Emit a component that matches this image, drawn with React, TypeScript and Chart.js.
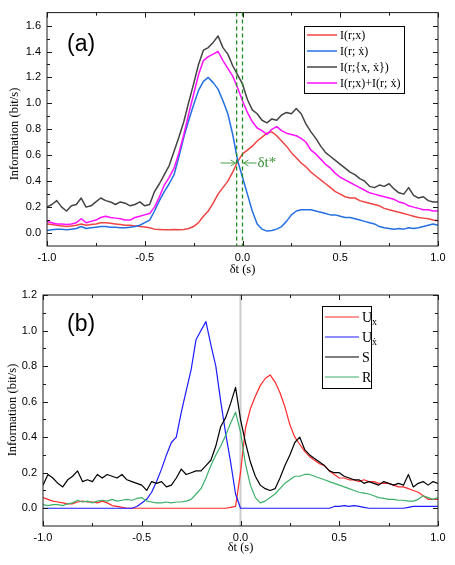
import React, { useEffect, useRef } from 'react'
import { Chart, registerables } from 'chart.js'

Chart.register(...registerables)

// ============================================================================
// DATA
// ============================================================================

// time lag δt (s)
const DT = [
  -1.0, -0.975, -0.95, -0.925, -0.9, -0.875, -0.85, -0.825, -0.8, -0.775,
  -0.75, -0.725, -0.7, -0.675, -0.65, -0.625, -0.6, -0.575, -0.55, -0.525,
  -0.5, -0.475, -0.45, -0.425, -0.4, -0.375, -0.35, -0.325, -0.3, -0.275,
  -0.25, -0.225, -0.2, -0.175, -0.15, -0.125, -0.1, -0.075, -0.05, -0.025,
  0.0, 0.025, 0.05, 0.075, 0.1, 0.125, 0.15, 0.175, 0.2, 0.225,
  0.25, 0.275, 0.3, 0.325, 0.35, 0.375, 0.4, 0.425, 0.45, 0.475,
  0.5, 0.525, 0.55, 0.575, 0.6, 0.625, 0.65, 0.675, 0.7, 0.725,
  0.75, 0.775, 0.8, 0.825, 0.85, 0.875, 0.9, 0.925, 0.95, 0.975,
  1.0,
]

// panel (a): I(r;x)
const A_IX = [
  0.07, 0.065, 0.06, 0.055, 0.05, 0.055, 0.06, 0.07, 0.06, 0.065,
  0.07, 0.08, 0.08, 0.075, 0.07, 0.065, 0.06, 0.06, 0.055, 0.05,
  0.047, 0.04, 0.03, 0.028, 0.025, 0.025, 0.027, 0.025, 0.028, 0.035,
  0.05, 0.08, 0.13, 0.17, 0.23, 0.3, 0.35, 0.4, 0.47, 0.55,
  0.61, 0.64, 0.67, 0.71, 0.74, 0.77, 0.78, 0.75, 0.71, 0.67,
  0.62, 0.58, 0.54, 0.51, 0.47, 0.44, 0.41, 0.38, 0.35, 0.32,
  0.3, 0.28, 0.27, 0.27, 0.25, 0.24, 0.23, 0.22, 0.21, 0.19,
  0.18, 0.17, 0.16, 0.15, 0.14, 0.13, 0.12, 0.115, 0.11, 0.1,
  0.095,
]

// panel (a): I(r;ẋ)
const A_IXD = [
  0.02, 0.025, 0.03, 0.03, 0.025, 0.03, 0.035, 0.05, 0.035, 0.04,
  0.045, 0.05, 0.05, 0.045, 0.045, 0.04, 0.04, 0.045, 0.05, 0.06,
  0.08, 0.1, 0.17, 0.25, 0.32, 0.38, 0.45, 0.59, 0.74, 0.87,
  0.99, 1.1, 1.17, 1.2, 1.16, 1.11, 1.02, 0.92, 0.76, 0.56,
  0.43, 0.3, 0.17, 0.07, 0.03, 0.015, 0.02, 0.03, 0.05, 0.09,
  0.14, 0.17, 0.18, 0.18, 0.18, 0.17, 0.16, 0.15, 0.14, 0.14,
  0.13, 0.12, 0.12, 0.11, 0.1, 0.09, 0.08, 0.07, 0.05, 0.04,
  0.035, 0.03, 0.035, 0.03, 0.04, 0.035, 0.04, 0.05, 0.06, 0.07,
  0.06,
]

// panel (a): I(r;{x,ẋ})
const A_IXXD = [
  0.2, 0.22, 0.25, 0.2, 0.17, 0.21, 0.22, 0.27, 0.2, 0.21,
  0.24, 0.27, 0.25, 0.24, 0.22, 0.24, 0.23, 0.21, 0.22, 0.24,
  0.21, 0.22, 0.32, 0.38, 0.45, 0.52, 0.63, 0.74, 0.86, 1.01,
  1.15, 1.3, 1.41, 1.43, 1.47, 1.52, 1.43, 1.38, 1.29, 1.22,
  1.15, 1.03, 0.95, 0.92, 0.87, 0.85, 0.88, 0.87, 0.91, 0.93,
  0.92, 0.96, 0.92, 0.84, 0.78, 0.73, 0.67, 0.62, 0.59, 0.56,
  0.53, 0.5, 0.47, 0.45, 0.42, 0.4, 0.36, 0.35, 0.37, 0.36,
  0.38, 0.34, 0.31, 0.3, 0.35, 0.29, 0.27, 0.28, 0.25, 0.24,
  0.24,
]

// panel (a): I(r;x)+I(r;ẋ)
const A_SUM = [
  0.09, 0.08, 0.07, 0.07, 0.065, 0.07, 0.08, 0.11, 0.08, 0.09,
  0.1, 0.12, 0.13, 0.12, 0.115, 0.11, 0.1, 0.1, 0.12, 0.13,
  0.14, 0.15, 0.2, 0.28, 0.37, 0.43, 0.5, 0.62, 0.76, 0.92,
  1.07, 1.22, 1.33, 1.36, 1.38, 1.4, 1.33, 1.27, 1.21, 1.12,
  1.02, 0.93, 0.86, 0.81, 0.79, 0.76, 0.8, 0.82, 0.79, 0.77,
  0.76, 0.75, 0.73, 0.7, 0.64, 0.61, 0.57, 0.53, 0.5, 0.46,
  0.43, 0.41, 0.39, 0.37, 0.35, 0.33, 0.31, 0.3, 0.29, 0.28,
  0.27, 0.26, 0.24, 0.23, 0.21, 0.2, 0.19, 0.18, 0.18, 0.17,
  0.17,
]

// panel (b): unique information of x
const B_UX = [
  0.06, 0.05, 0.04, 0.035, 0.03, 0.025, 0.025, 0.035, 0.04, 0.035,
  0.035, 0.03, 0.04, 0.03, 0.015, 0.01, 0.005, 0, 0, 0,
  0, 0, 0, 0, 0, 0, 0, 0, 0, 0,
  0, 0, 0, 0, 0, 0, 0, 0, 0.005, 0.01,
  0.2, 0.45, 0.56, 0.63, 0.69, 0.73, 0.75, 0.71, 0.65, 0.57,
  0.47, 0.4, 0.36, 0.32, 0.29, 0.27, 0.25, 0.24, 0.21, 0.19,
  0.17, 0.17, 0.16, 0.16, 0.15, 0.16, 0.15, 0.15, 0.14, 0.14,
  0.14, 0.13, 0.12, 0.12, 0.11, 0.1, 0.09, 0.07, 0.05, 0.05,
  0.05,
]

// panel (b): unique information of ẋ
const B_UXD = [
  0, 0, 0, 0, 0, 0, 0, 0, 0, 0,
  0, 0, 0, 0, 0, 0, 0, 0, 0, 0.01,
  0.03, 0.05, 0.09, 0.15, 0.22, 0.3, 0.37, 0.4, 0.54, 0.66,
  0.78, 0.95, 1.0, 1.05, 0.92, 0.8, 0.6, 0.42, 0.26, 0.08,
  0, 0, 0, 0, 0, 0, 0, 0, 0, 0,
  0, 0, 0, 0, 0, 0, 0, 0, 0, 0.01,
  0.01, 0.015, 0.01, 0.015, 0.01, 0.005, 0, 0, 0, 0,
  0, 0, 0, 0, 0.005, 0.01, 0.01, 0.01, 0.01, 0.01,
  0.01,
]

// panel (b): synergy
const B_S = [
  0.13, 0.19, 0.17, 0.14, 0.12, 0.16, 0.18, 0.21, 0.15, 0.16,
  0.15, 0.19, 0.17, 0.19, 0.18, 0.17, 0.19, 0.16, 0.15, 0.14,
  0.13, 0.1, 0.15, 0.14, 0.15, 0.12, 0.13, 0.17, 0.22, 0.19,
  0.2, 0.21, 0.21, 0.24, 0.27, 0.35, 0.46, 0.51, 0.59, 0.68,
  0.5, 0.37, 0.26, 0.18, 0.13, 0.11, 0.1, 0.11, 0.17, 0.24,
  0.3, 0.37, 0.4, 0.33, 0.3, 0.28, 0.26, 0.24, 0.21, 0.2,
  0.2, 0.18, 0.17, 0.16, 0.16, 0.14, 0.15, 0.14, 0.13, 0.15,
  0.14, 0.13, 0.14, 0.13, 0.19, 0.12, 0.14, 0.15, 0.13, 0.15,
  0.14,
]

// panel (b): redundancy
const B_R = [
  0.02, 0.015, 0.02, 0.02, 0.015, 0.025, 0.03, 0.045, 0.035, 0.04,
  0.03, 0.04, 0.045, 0.04, 0.05, 0.04, 0.045, 0.05, 0.045, 0.055,
  0.06, 0.04, 0.035, 0.03, 0.03, 0.035, 0.03, 0.035, 0.035, 0.04,
  0.05, 0.08, 0.11, 0.17, 0.24, 0.3, 0.35, 0.41, 0.48, 0.54,
  0.43, 0.25, 0.13, 0.06, 0.03, 0.04, 0.06, 0.08, 0.11, 0.14,
  0.16, 0.18, 0.18, 0.19, 0.19, 0.18, 0.17, 0.16, 0.15, 0.14,
  0.13, 0.12, 0.11, 0.1, 0.09, 0.085, 0.08, 0.07, 0.06, 0.055,
  0.05, 0.05, 0.045, 0.045, 0.04, 0.04, 0.05, 0.07, 0.06, 0.05,
  0.06,
]

// axis ticks
const X_MAJOR = [-1, -0.5, 0, 0.5, 1]
const X_MINOR = [-0.75, -0.25, 0.25, 0.75]
const A_Y_MAJOR = [0, 0.2, 0.4, 0.6, 0.8, 1.0, 1.2, 1.4, 1.6]
const A_Y_MINOR = [0.1, 0.3, 0.5, 0.7, 0.9, 1.1, 1.3, 1.5]
const B_Y_MAJOR = [0, 0.2, 0.4, 0.6, 0.8, 1.0, 1.2]
const B_Y_MINOR = [0.1, 0.3, 0.5, 0.7, 0.9, 1.1]

// annotation values
const A_DASH_X = [-0.03, 0]
const A_CROSS_Y = 0.54
const B_ZERO_X = [0]

// ============================================================================
// DRAWING HELPERS
// ============================================================================

const SERIF = '"Liberation Serif", "Times New Roman", "DejaVu Serif", serif'
const SANS = '"Liberation Sans", Arial, Helvetica, sans-serif'

type Seg = { t: string; sub?: boolean }
type LegendItem = { color: string; width: number; label: Seg[] }
type LegendBox = {
  x: number
  y: number
  w: number
  h: number
  firstRow: number
  rowGap: number
  lineFrom: number
  lineTo: number
  textAt: number
  size: number
}

// text centred on the cap height at y, with optional subscripts
const drawRich = (ctx: CanvasRenderingContext2D, segs: Seg[], x: number, y: number, size: number) => {
  let cx = x
  const base = y + size * 0.33
  ctx.textBaseline = 'alphabetic'
  ctx.textAlign = 'left'
  for (const s of segs) {
    const sz = s.sub ? Math.round(size * 0.7) : size
    ctx.font = `${sz}px ${SERIF}`
    ctx.fillText(s.t, cx, s.sub ? base + size * 0.25 : base)
    cx += ctx.measureText(s.t).width
  }
}

const arrow = (ctx: CanvasRenderingContext2D, x0: number, x1: number, y: number) => {
  const d = x1 > x0 ? -1 : 1
  ctx.beginPath()
  ctx.moveTo(x0, y)
  ctx.lineTo(x1, y)
  ctx.moveTo(x1 + d * 5, y - 3)
  ctx.lineTo(x1, y)
  ctx.lineTo(x1 + d * 5, y + 3)
  ctx.stroke()
}

// frame with inward ticks on all four sides, axis titles, panel tag, legend
const framePlugin = {
  id: 'frameTicks',
  afterDatasetsDraw(chart: any, _args: any, opts: any) {
    const { ctx, chartArea: a, scales } = chart
    const sx = scales.x
    const sy = scales.y
    ctx.save()
    ctx.strokeStyle = '#1a1a1a'
    ctx.lineWidth = 1
    ctx.strokeRect(a.left, a.top, a.right - a.left, a.bottom - a.top)

    const xt = (vals: number[], len: number) => {
      for (const v of vals) {
        const px = Math.round(sx.getPixelForValue(v)) + 0.5
        ctx.beginPath()
        ctx.moveTo(px, a.bottom)
        ctx.lineTo(px, a.bottom - len)
        ctx.moveTo(px, a.top)
        ctx.lineTo(px, a.top + len)
        ctx.stroke()
      }
    }
    const yt = (vals: number[], len: number) => {
      for (const v of vals) {
        const py = Math.round(sy.getPixelForValue(v)) + 0.5
        ctx.beginPath()
        ctx.moveTo(a.left, py)
        ctx.lineTo(a.left + len, py)
        ctx.moveTo(a.right, py)
        ctx.lineTo(a.right - len, py)
        ctx.stroke()
      }
    }
    xt(X_MAJOR, 5)
    xt(X_MINOR, 3)
    yt(opts.yMajor, 5)
    yt(opts.yMinor, 3)

    // axis titles
    ctx.fillStyle = '#000'
    ctx.font = `12.5px ${SERIF}`
    ctx.textAlign = 'center'
    ctx.textBaseline = 'middle'
    ctx.fillText('δt (s)', (a.left + a.right) / 2, opts.xTitleY)
    ctx.save()
    ctx.translate(opts.yTitleX, opts.yTitleY)
    ctx.rotate(-Math.PI / 2)
    ctx.fillText('Information (bit/s)', 0, 0)
    ctx.restore()

    // panel tag
    ctx.font = `23px ${SANS}`
    ctx.textAlign = 'left'
    ctx.fillText(opts.tag, opts.tagX, opts.tagY)

    // legend
    const lb: LegendBox = opts.box
    ctx.fillStyle = '#fff'
    ctx.fillRect(lb.x, lb.y, lb.w, lb.h)
    ctx.strokeStyle = '#000'
    ctx.lineWidth = 1
    ctx.strokeRect(lb.x + 0.5, lb.y + 0.5, lb.w, lb.h)
    opts.items.forEach((it: LegendItem, i: number) => {
      const yy = lb.y + lb.firstRow + i * lb.rowGap
      ctx.strokeStyle = it.color
      ctx.lineWidth = it.width
      ctx.beginPath()
      ctx.moveTo(lb.x + lb.lineFrom, yy)
      ctx.lineTo(lb.x + lb.lineTo, yy)
      ctx.stroke()
      ctx.fillStyle = '#000'
      drawRich(ctx, it.label, lb.x + lb.textAt, yy, lb.size)
    })
    ctx.restore()
  },
}

// panel (a): dashed lag markers and δt* arrows
const lagPlugin = {
  id: 'lagMarks',
  afterDatasetsDraw(chart: any) {
    const { ctx, chartArea: a, scales } = chart
    ctx.save()
    ctx.strokeStyle = '#1f8a1f'
    ctx.lineWidth = 1.3
    ctx.setLineDash([4, 3])
    for (const v of A_DASH_X) {
      const px = scales.x.getPixelForValue(v)
      ctx.beginPath()
      ctx.moveTo(px, a.top)
      ctx.lineTo(px, a.bottom)
      ctx.stroke()
    }
    ctx.setLineDash([])
    const py = scales.y.getPixelForValue(A_CROSS_Y)
    const p0 = scales.x.getPixelForValue(A_DASH_X[0])
    const p1 = scales.x.getPixelForValue(A_DASH_X[1])
    ctx.strokeStyle = '#4b9e4b'
    ctx.lineWidth = 1
    arrow(ctx, p0 - 16, p0 - 1, py)
    arrow(ctx, p1 + 14, p1 + 1, py)
    ctx.fillStyle = '#3a8e3a'
    ctx.font = `15px ${SERIF}`
    ctx.textAlign = 'left'
    ctx.textBaseline = 'middle'
    ctx.fillText('δt*', p1 + 15, py)
    ctx.restore()
  },
}

// panel (b): grey zero-lag line under the curves
const zeroPlugin = {
  id: 'zeroLine',
  beforeDatasetsDraw(chart: any) {
    const { ctx, chartArea: a, scales } = chart
    ctx.save()
    ctx.strokeStyle = '#cccccc'
    ctx.lineWidth = 2
    for (const v of B_ZERO_X) {
      const px = scales.x.getPixelForValue(v)
      ctx.beginPath()
      ctx.moveTo(px, a.top)
      ctx.lineTo(px, a.bottom)
      ctx.stroke()
    }
    ctx.restore()
  },
}

// ============================================================================
// PANEL COMPONENT
// ============================================================================

interface SeriesSpec {
  values: number[]
  color: string
  width: number
}

interface PanelProps {
  height: number
  yMin: number
  yMax: number
  yMajor: number[]
  yMinor: number[]
  yWidth: number
  xHeight: number
  padTop: number
  series: SeriesSpec[]
  legend: LegendItem[]
  box: LegendBox
  tag: string
  yTitleX: number
  yTitleY: number
  xTitleY: number
  extra: any[]
}

const Panel: React.FC<PanelProps> = (p) => {
  const canvasRef = useRef<HTMLCanvasElement>(null)

  useEffect(() => {
    if (!canvasRef.current) return
    const chart = new Chart(canvasRef.current, {
      type: 'line',
      data: {
        datasets: p.series.map((s, i) => ({
          data: DT.map((x, k) => ({ x, y: s.values[k] })),
          borderColor: s.color,
          borderWidth: s.width,
          pointRadius: 0,
          tension: 0,
          fill: false,
          borderJoinStyle: 'round' as const,
          order: p.series.length - i,
        })),
      },
      options: {
        responsive: false,
        maintainAspectRatio: false,
        animation: false,
        events: [],
        layout: { padding: { top: p.padTop, right: 17, left: 0, bottom: 0 } },
        plugins: {
          legend: { display: false },
          tooltip: { enabled: false },
          frameTicks: {
            yMajor: p.yMajor,
            yMinor: p.yMinor,
            items: p.legend,
            box: p.box,
            tag: p.tag,
            tagX: 67,
            tagY: 45,
            yTitleX: p.yTitleX,
            yTitleY: p.yTitleY,
            xTitleY: p.xTitleY,
          },
        } as any,
        scales: {
          x: {
            type: 'linear',
            min: -1,
            max: 1,
            afterBuildTicks: (s: any) => {
              s.ticks = X_MAJOR.map((v) => ({ value: v }))
            },
            afterFit: (s: any) => {
              s.height = p.xHeight
            },
            grid: { display: false, drawTicks: false },
            border: { display: false },
            ticks: {
              color: '#000',
              font: { family: SANS, size: 11 },
              padding: 5,
              maxRotation: 0,
              autoSkip: false,
              callback: (v: any) => Number(v).toFixed(1),
            },
          },
          y: {
            type: 'linear',
            min: p.yMin,
            max: p.yMax,
            afterBuildTicks: (s: any) => {
              s.ticks = p.yMajor.map((v) => ({ value: v }))
            },
            afterFit: (s: any) => {
              s.width = p.yWidth
            },
            grid: { display: false, drawTicks: false },
            border: { display: false },
            ticks: {
              color: '#000',
              font: { family: SANS, size: 11 },
              padding: 6,
              autoSkip: false,
              callback: (v: any) => Number(v).toFixed(1),
            },
          },
        },
      },
      plugins: [framePlugin, ...p.extra],
    })
    return () => {
      chart.destroy()
    }
  }, [])

  return <canvas ref={canvasRef} width={455} height={p.height} style={{ display: 'block' }} />
}

// ============================================================================
// APP
// ============================================================================

export default function App() {
  return (
    <div style={{ position: 'absolute', left: 0, top: 0, width: 455, height: 565, background: '#fff' }}>
      <Panel
        height={280}
        yMin={-0.1}
        yMax={1.7}
        yMajor={A_Y_MAJOR}
        yMinor={A_Y_MINOR}
        yWidth={47}
        xHeight={34}
        padTop={12}
        series={[
          { values: A_IX, color: '#f04545', width: 1.5 },
          { values: A_IXD, color: '#2470e0', width: 1.5 },
          { values: A_IXXD, color: '#444444', width: 1.5 },
          { values: A_SUM, color: '#ff10ff', width: 1.5 },
        ]}
        legend={[
          { color: '#f04545', width: 1.5, label: [{ t: 'I(r;x)' }] },
          { color: '#2470e0', width: 1.5, label: [{ t: 'I(r; ẋ)' }] },
          { color: '#444444', width: 1.5, label: [{ t: 'I(r;{x, ẋ})' }] },
          { color: '#ff10ff', width: 1.5, label: [{ t: 'I(r;x)+I(r; ẋ)' }] },
        ]}
        box={{ x: 304, y: 26, w: 100, h: 67, firstRow: 9, rowGap: 16, lineFrom: 3, lineTo: 33, textAt: 36, size: 12 }}
        tag="(a)"
        yTitleX={15}
        yTitleY={134}
        xTitleY={270}
        extra={[lagPlugin]}
      />
      <Panel
        height={285}
        yMin={-0.1}
        yMax={1.2}
        yMajor={B_Y_MAJOR}
        yMinor={B_Y_MINOR}
        yWidth={43}
        xHeight={39}
        padTop={15}
        series={[
          { values: B_UX, color: '#ff2a2a', width: 1.2 },
          { values: B_UXD, color: '#1c1cff', width: 1.2 },
          { values: B_S, color: '#000000', width: 1.2 },
          { values: B_R, color: '#3cb06a', width: 1.2 },
        ]}
        legend={[
          { color: '#ff2a2a', width: 1.2, label: [{ t: 'U' }, { t: 'x', sub: true }] },
          { color: '#1c1cff', width: 1.2, label: [{ t: 'U' }, { t: 'ẋ', sub: true }] },
          { color: '#000000', width: 1.2, label: [{ t: 'S' }] },
          { color: '#3cb06a', width: 1.2, label: [{ t: 'R' }] },
        ]}
        box={{ x: 322, y: 26, w: 49, h: 82, firstRow: 11, rowGap: 20, lineFrom: 3, lineTo: 37, textAt: 40, size: 14 }}
        tag="(b)"
        yTitleX={13}
        yTitleY={130}
        xTitleY={268}
        extra={[zeroPlugin]}
      />
    </div>
  )
}
